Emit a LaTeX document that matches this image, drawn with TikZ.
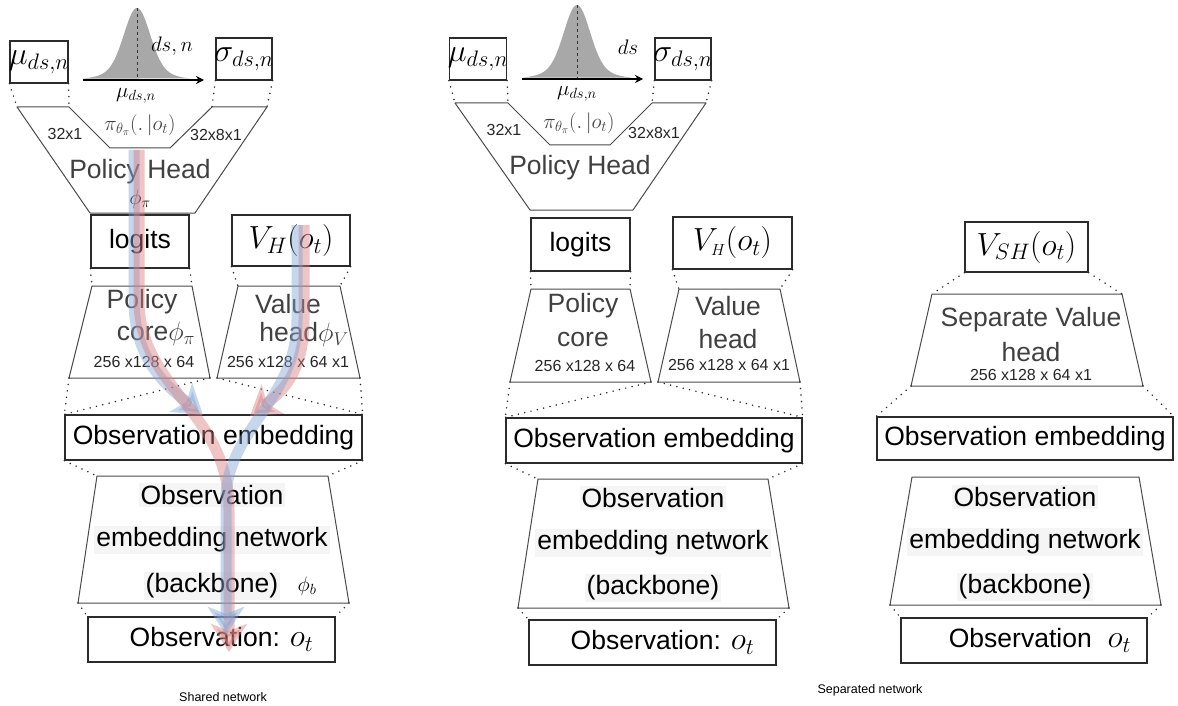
\RequirePackage{fix-cm}
\documentclass[tikz,border=0pt]{standalone}
\usepackage{fontspec}
\setmainfont{Liberation Sans}
\usepackage{xcolor}
\definecolor{mainDark}{HTML}{2B2B2B}
\definecolor{layerGrey}{HTML}{404040}
\definecolor{trapLine}{HTML}{4A4A4A}
\definecolor{hiBg}{HTML}{F5F5F5}
\definecolor{gaussFill}{HTML}{A8A8A8}
\definecolor{gradBlueC}{HTML}{7FA3D6}
\definecolor{gradRedC}{HTML}{D97C7C}
\usepackage{tikz}
\usetikzlibrary{arrows.meta,calc}
\newcommand{\bigTxt}{\fontsize{26.5}{30}\selectfont}
\newcommand{\dimTxt}{\fontsize{16}{18}\selectfont}
\newcommand{\capTxt}{\fontsize{12.5}{14}\selectfont}
\newcommand{\mathBig}{\fontsize{32}{36}\selectfont}
\newcommand{\mathSm}{\fontsize{21}{24}\selectfont}
\tikzset{%
  outBox/.style={%
    rectangle,
    draw=mainDark,
    line width=1.3pt,
    inner sep=0pt,
    font=\bigTxt,
    align=center
  },
  layerShape/.style={%
    draw=trapLine,
    line width=1pt,
    line join=round
  },
  dotLink/.style={%
    line width=1.7pt,
    dash pattern=on 0pt off 6.5pt,
    line cap=round,
    color=mainDark
  },
  axisArrow/.style={%
    -{Stealth[length=8pt,width=8pt]},
    line width=1.4pt,
    color=black
  },
  meanLine/.style={%
    dashed,
    line width=1pt,
    color=black!80
  },
  gradBlue/.style={%
    -{Stealth[length=28pt,width=36pt,inset=7pt]},
    line width=11pt,
    color=gradBlueC,
    opacity=0.45
  },
  gradRed/.style={%
    -{Stealth[length=28pt,width=36pt,inset=7pt]},
    line width=11pt,
    color=gradRedC,
    opacity=0.45
  },
  layerText/.style={font=\bigTxt, text=layerGrey, inner sep=0pt},
  lineText/.style={font=\bigTxt, fill=hiBg, inner sep=2pt},
  dimText/.style={font=\dimTxt, text=black!85, inner sep=0pt},
  mathLbl/.style={font=\mathSm, inner sep=0pt},
  capText/.style={font=\capTxt, inner sep=0pt}
}

\begin{document}
\begin{tikzpicture}[x=1pt,y=-1pt]
  \useasboundingbox (0,0) rectangle (1178,706);

  % ---------------- shared network ----------------
  \node[outBox, minimum width=58, minimum height=42] (muL) at (39,62) {\makebox[0pt]{\mathBig$\mu_{ds,n}$}};
  \node[outBox, minimum width=56, minimum height=42] (sigL) at (244,59) {\makebox[0pt]{\mathBig$\sigma_{ds,n}$}};
  \fill[gaussFill] plot[domain=-54:53, samples=90, smooth] ({137+\x},{80-72*(0.85*exp(-((\x/18)^2))+0.15*exp(-((\x/38)^2)))}) -- cycle;
  \coordinate (gStartL) at (83,80);
  \coordinate (gEndL) at (204,80);
  \coordinate (gTopL) at (137,8);
  \coordinate (gMidL) at (137,80);
  \draw[meanLine] (gTopL) -- (gMidL);
  \draw[axisArrow] (gStartL) -- (gEndL);
  \node[mathLbl] (dsnL) at (172,46) {$ds,n$};
  \node[mathLbl] (meanL) at (136,96) {$\mu_{ds,n}$};

  \coordinate (phL1) at (17,107);
  \coordinate (phL2) at (69,107);
  \coordinate (phL3) at (110,148);
  \coordinate (phL4) at (170,148);
  \coordinate (phL5) at (212,107);
  \coordinate (phL6) at (267,107);
  \coordinate (phL7) at (195,213);
  \coordinate (phL8) at (90,213);
  \draw[layerShape] (phL1) -- (phL2) -- (phL3) -- (phL4) -- (phL5) -- (phL6) -- (phL7) -- (phL8) -- cycle;
  \node[dimText] (inL) at (65,134) {32x1};
  \node[mathLbl, text=layerGrey] (piL) at (140,125) {$\pi_{\theta_\pi}(.\,|o_t)$};
  \node[dimText] (outL) at (216,135) {32x8x1};
  \node[layerText] (phTxtL) at (140,172) {Policy Head};
  \node[mathLbl] (phiPL) at (140,199) {$\phi_\pi$};
  \draw[dotLink] (muL.south west) -- (phL1);
  \draw[dotLink] (muL.south east) -- (phL2);
  \draw[dotLink] (sigL.south west) -- (phL5);
  \draw[dotLink] (sigL.south east) -- (phL6);

  \node[outBox, minimum width=98, minimum height=53] (logitsL) at (140,241.5) {logits};
  \node[outBox, minimum width=118, minimum height=51] (vhL) at (291,240.5) {\mathBig$V_H(o_t)$};

  \coordinate (pcL1) at (92,286);
  \coordinate (pcL2) at (192,286);
  \coordinate (pcL3) at (210,378);
  \coordinate (pcL4) at (69,378);
  \draw[layerShape] (pcL1) -- (pcL2) -- (pcL3) -- (pcL4) -- cycle;
  \node[layerText] (pcTxtL1) at (142,302) {Policy};
  \node[layerText] (pcTxtL2) at (156,334) {core$\phi_\pi$};
  \node[dimText] (pcDimL) at (144,362) {256 x128 x 64};

  \coordinate (vtL1) at (238,286);
  \coordinate (vtL2) at (340,286);
  \coordinate (vtL3) at (360,378);
  \coordinate (vtL4) at (217,378);
  \draw[layerShape] (vtL1) -- (vtL2) -- (vtL3) -- (vtL4) -- cycle;
  \node[layerText] (vtTxtL1) at (288,304) {Value};
  \node[layerText] (vtTxtL2) at (304,334) {head$\phi_V$};
  \node[dimText] (vtDimL) at (288,362) {256 x128 x 64 x1};

  \draw[dotLink] (logitsL.south west) -- (pcL1);
  \draw[dotLink] (logitsL.south east) -- (pcL2);
  \draw[dotLink] (vhL.south west) -- (vtL1);
  \draw[dotLink] (vhL.south east) -- (vtL2);

  \node[outBox, minimum width=297, minimum height=45] (embL) at (213.5,437.5) {Observation embedding};
  \draw[dotLink] (pcL4) -- (embL.north west);
  \draw[dotLink] (pcL3) -- (embL.north west);
  \draw[dotLink] (vtL4) -- (embL.north east);
  \draw[dotLink] (vtL3) -- (embL.north east);

  \coordinate (bbL1) at (97,476);
  \coordinate (bbL2) at (328,476);
  \coordinate (bbL3) at (349,603);
  \coordinate (bbL4) at (78,603);
  \draw[layerShape] (bbL1) -- (bbL2) -- (bbL3) -- (bbL4) -- cycle;
  \node[lineText] (bbTxtL1) at (212,495) {Observation};
  \node[lineText] (bbTxtL2) at (212,540) {embedding network};
  \node[lineText] (bbTxtL3) at (212,586) {(backbone)};
  \node[mathLbl] (phiBL) at (307,586) {$\phi_b$};
  \draw[dotLink] (embL.south west) -- (bbL1);
  \draw[dotLink] (embL.south east) -- (bbL2);

  \node[outBox, minimum width=247, minimum height=45] (obsL) at (211.5,639.5) {\hspace*{20pt}Observation: {\mathBig$o_t$}};
  \draw[dotLink] (bbL4) -- (obsL.north west);
  \draw[dotLink] (bbL3) -- (obsL.north east);
  \node[capText] (capL) at (223,697) {Shared network};

  % gradient flows
  \coordinate (gPolB) at (134,150);
  \coordinate (gPolR) at (139,150);
  \coordinate (gValB) at (297,225);
  \coordinate (gValR) at (304,225);
  \coordinate (tipPolB) at (203,415);
  \coordinate (tipPolR) at (229,652);
  \coordinate (tipValR) at (250,416);
  \coordinate (tipValB) at (226,635);
  \draw[gradBlue] (gPolB) -- (134,300) .. controls (134,358) and (165,385) .. (tipPolB);
  \draw[gradRed] (gPolR) -- (139,300) .. controls (139,390) and (229,410) .. (229,510) -- (tipPolR);
  \draw[gradRed] (gValR) -- (304,320) .. controls (304,372) and (282,392) .. (tipValR);
  \draw[gradBlue] (gValB) -- (297,320) .. controls (297,400) and (226,430) .. (226,500) -- (tipValB);

  % ---------------- separated network ----------------
  \node[outBox, minimum width=57, minimum height=42] (muM) at (478,59) {\makebox[0pt]{\mathBig$\mu_{ds,n}$}};
  \node[outBox, minimum width=56, minimum height=42] (sigM) at (683,59) {\makebox[0pt]{\mathBig$\sigma_{ds,n}$}};
  \fill[gaussFill] plot[domain=-55:55, samples=90, smooth] ({577+\x},{79-74*(0.85*exp(-((\x/18)^2))+0.15*exp(-((\x/38)^2)))}) -- cycle;
  \coordinate (gStartM) at (522,79);
  \coordinate (gEndM) at (643,79);
  \coordinate (gTopM) at (577,5);
  \coordinate (gMidM) at (577,79);
  \draw[meanLine] (gTopM) -- (gMidM);
  \draw[axisArrow] (gStartM) -- (gEndM);
  \node[mathLbl] (dsM) at (628,47) {$ds$};
  \node[mathLbl] (meanM) at (577,94) {$\mu_{ds,n}$};

  \coordinate (phM1) at (455,103);
  \coordinate (phM2) at (508,103);
  \coordinate (phM3) at (550,145);
  \coordinate (phM4) at (610,145);
  \coordinate (phM5) at (652,103);
  \coordinate (phM6) at (706,103);
  \coordinate (phM7) at (633,210);
  \coordinate (phM8) at (530,210);
  \draw[layerShape] (phM1) -- (phM2) -- (phM3) -- (phM4) -- (phM5) -- (phM6) -- (phM7) -- (phM8) -- cycle;
  \node[dimText] (inM) at (504,130) {32x1};
  \node[mathLbl, text=layerGrey] (piM) at (579,123) {$\pi_{\theta_\pi}(.\,|o_t)$};
  \node[dimText] (outM) at (654,133) {32x8x1};
  \node[layerText] (phTxtM) at (580,168) {Policy Head};
  \draw[dotLink] (muM.south west) -- (phM1);
  \draw[dotLink] (muM.south east) -- (phM2);
  \draw[dotLink] (sigM.south west) -- (phM5);
  \draw[dotLink] (sigM.south east) -- (phM6);

  \node[outBox, minimum width=99, minimum height=53] (logitsM) at (580.5,244.5) {logits};
  \node[outBox, minimum width=119, minimum height=52] (vhM) at (732.5,243) {\mathBig$V_{\scriptscriptstyle H}(o_t)$};

  \coordinate (pcM1) at (531,289);
  \coordinate (pcM2) at (630,289);
  \coordinate (pcM3) at (651,382);
  \coordinate (pcM4) at (510,382);
  \draw[layerShape] (pcM1) -- (pcM2) -- (pcM3) -- (pcM4) -- cycle;
  \node[layerText] (pcTxtM1) at (583,306) {Policy};
  \node[layerText] (pcTxtM2) at (583,339) {core};
  \node[dimText] (pcDimM) at (585,366) {256 x128 x 64};

  \coordinate (vtM1) at (679,289);
  \coordinate (vtM2) at (780,289);
  \coordinate (vtM3) at (800,382);
  \coordinate (vtM4) at (658,382);
  \draw[layerShape] (vtM1) -- (vtM2) -- (vtM3) -- (vtM4) -- cycle;
  \node[layerText] (vtTxtM1) at (728,306) {Value};
  \node[layerText] (vtTxtM2) at (728,339) {head};
  \node[dimText] (vtDimM) at (729,365) {256 x128 x 64 x1};

  \draw[dotLink] (logitsM.south west) -- (pcM1);
  \draw[dotLink] (logitsM.south east) -- (pcM2);
  \draw[dotLink] (vhM.south west) -- (vtM1);
  \draw[dotLink] (vhM.south east) -- (vtM2);

  \node[outBox, minimum width=296, minimum height=45] (embM) at (654,440.5) {Observation embedding};
  \draw[dotLink] (pcM4) -- (embM.north west);
  \draw[dotLink] (pcM3) -- (embM.north west);
  \draw[dotLink] (vtM4) -- (embM.north east);
  \draw[dotLink] (vtM3) -- (embM.north east);

  \coordinate (bbM1) at (538,479);
  \coordinate (bbM2) at (768,479);
  \coordinate (bbM3) at (789,608);
  \coordinate (bbM4) at (518,608);
  \draw[layerShape] (bbM1) -- (bbM2) -- (bbM3) -- (bbM4) -- cycle;
  \node[lineText] (bbTxtM1) at (653,498) {Observation};
  \node[lineText] (bbTxtM2) at (653,543) {embedding network};
  \node[lineText] (bbTxtM3) at (653,588) {(backbone)};
  \draw[dotLink] (embM.south west) -- (bbM1);
  \draw[dotLink] (embM.south east) -- (bbM2);

  \node[outBox, minimum width=247, minimum height=45] (obsM) at (652.5,642.5) {\hspace*{20pt}Observation: {\mathBig$o_t$}};
  \draw[dotLink] (bbM4) -- (obsM.north west);
  \draw[dotLink] (bbM3) -- (obsM.north east);
  \node[capText] (capM) at (870,690) {Separated network};

  % ---------------- separate value network ----------------
  \node[outBox, minimum width=123, minimum height=50] (vshR) at (1026.5,247) {\mathBig$V_{SH}(o_t)$};
  \coordinate (svR1) at (932,294);
  \coordinate (svR2) at (1122,294);
  \coordinate (svR3) at (1143,386);
  \coordinate (svR4) at (911,386);
  \draw[layerShape] (svR1) -- (svR2) -- (svR3) -- (svR4) -- cycle;
  \node[layerText] (svTxtR1) at (1031,320) {Separate Value};
  \node[layerText] (svTxtR2) at (1031,352) {head};
  \node[dimText] (svDimR) at (1031,375) {256 x128 x 64 x1};
  \draw[dotLink] (vshR.south west) -- (svR1);
  \draw[dotLink] (vshR.south east) -- (svR2);

  \node[outBox, minimum width=296, minimum height=43] (embR) at (1025,438.5) {Observation embedding};
  \draw[dotLink] (svR4) -- (embR.north west);
  \draw[dotLink] (svR3) -- (embR.north east);

  \coordinate (bbR1) at (912,477);
  \coordinate (bbR2) at (1139,477);
  \coordinate (bbR3) at (1161,605);
  \coordinate (bbR4) at (890,605);
  \draw[layerShape] (bbR1) -- (bbR2) -- (bbR3) -- (bbR4) -- cycle;
  \node[lineText] (bbTxtR1) at (1025,497) {Observation};
  \node[lineText] (bbTxtR2) at (1025,542) {embedding network};
  \node[lineText] (bbTxtR3) at (1025,587) {(backbone)};

  \node[outBox, minimum width=246, minimum height=45] (obsR) at (1024,640.5) {\hspace*{32pt}Observation\hspace{0.6em}{\mathBig$o_t$}};
  \draw[dotLink] (bbR4) -- (obsR.north west);
  \draw[dotLink] (bbR3) -- (obsR.north east);
\end{tikzpicture}
\end{document}
